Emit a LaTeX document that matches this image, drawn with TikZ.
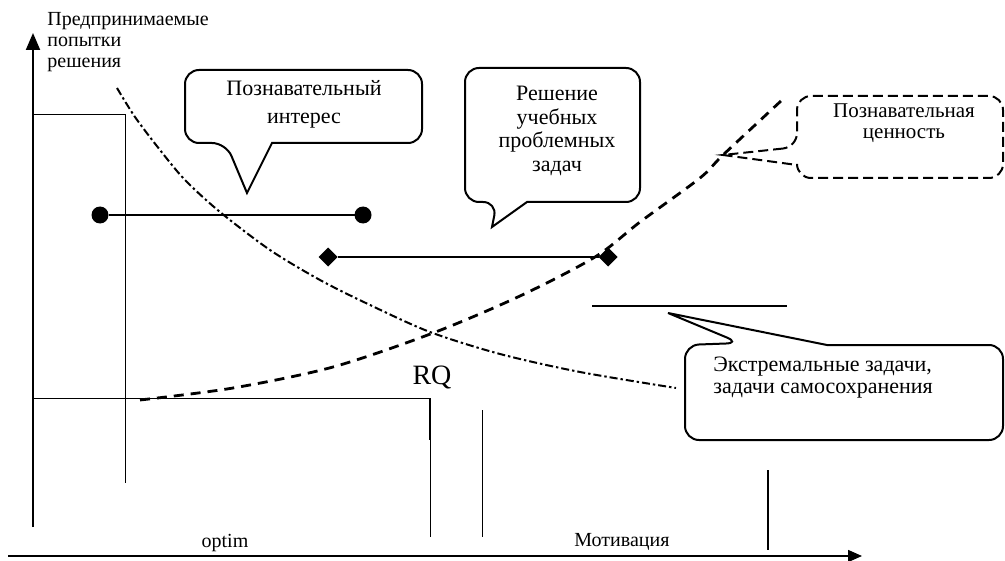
\documentclass[tikz,border=0pt]{standalone}
\usepackage{fontspec}
\setmainfont{Liberation Serif}
\usetikzlibrary{arrows.meta, shapes.geometric}
\tikzset{
	x = .5pt,
	y = -.5pt,
	line width = 1pt,
	font = \fontsize{11}{12}\selectfont,
	endpoint/.style={
		fill,
		inner sep=0pt,
		outer sep=0pt
	},
	ball/.style={
		endpoint,
		circle,
		minimum size=8.5pt
	},
	gem/.style={
		endpoint,
		diamond,
		minimum size=9.5pt
	},
	bar/.style={
		line width=1pt
	},
	guide/.style={
		line width=.5pt
	},
	axisline/.style={
		line width=1pt,
		-{Triangle[length=8.5pt, width=7pt]}
	},
	falling/.style={
		line width=1pt,
		dash pattern=on 4pt off 1.5pt on 1.2pt off 1.5pt
	},
	rising/.style={
		line width=1.4pt,
		dash pattern=on 5pt off 3.5pt
	},
	bubble/.style={
		line width=1pt
	},
	note/.style={
		align=center,
		inner sep=0pt
	}
}

\begin{document}
\begin{tikzpicture}
	\useasboundingbox (0,0) rectangle (1005,561);

	% axes
	\draw[axisline] (33,527) -- (33,33);
	\draw[axisline, line width=.8pt, -{Triangle[length=7pt, width=6pt]}] (8,556) -- (862,556);
	\node[note, align=left, anchor=west, font=\fontsize{10}{10.5}\selectfont] (yname) at (47,42) {Предпринимаемые\\попытки\\решения};

	% guide lines
	\draw[guide] (33,115) -- (125,115) -- (125,483);
	\draw[guide] (33,398) -- (430,398) -- (430,537);
	\draw[bar] (430,398) -- (430,440);
	\draw[guide] (482,410) -- (482,537);
	\draw[guide, line width=.8pt] (768,470) -- (768,550);

	% ranges
	\node[ball] at (100,215) (i-0) {};
	\node[ball] at (363,215) (i-1) {};
	\node[gem] at (328,257) (s-0) {};
	\node[gem] at (608,257) (s-1) {};
	\draw[bar] (i-0) to (i-1);
	\draw[bar] (s-0) to (s-1);
	\draw[bar, line width=1.2pt] (592,306) -- (787,306);

	% curves
	\draw[falling] plot[smooth] coordinates {(117,88) (135,117) (160,150) (185,180) (220,212) (270,250) (320,280) (370,305) (430,332) (500,354) (580,372) (676,388)};
	\draw[rising] plot[smooth] coordinates {(140,400) (233,388) (333,367) (433,333) (520,296) (595,257) (640,222) (700,178) (723,155) (782,100)};

	% callouts
	\draw[bubble] (272,143) [rounded corners=7pt] -- (422,143) -- (422,70) -- (185,70) -- (185,143) -- (226,143) [sharp corners] -- (247,193) -- cycle;
	\node[note, font=\fontsize{11}{14}\selectfont] (interest) at (304,104) {Познавательный\\интерес};

	\draw[bubble] (527,202) [rounded corners=7pt] -- (640,202) -- (640,68) -- (465,68) -- (465,202) -- (497,202) [sharp corners] -- (492,227) -- cycle;
	\node[note, font=\fontsize{11}{11.7}\selectfont] (tasks) at (557,131) {Решение\\учебных\\проблемных\\задач};

	\draw[bubble, dash pattern=on 5pt off 2.5pt] (797,147) [sharp corners] -- (723,155) -- (797,165) [rounded corners=7pt] -- (797,178) -- (1003,178) -- (1003,96) -- (797,96) -- cycle;
	\node[note, font=\fontsize{10.5}{10.5}\selectfont] (worth) at (904,123) {Познавательная\\ценность};

	\draw[bubble] (827,345) [rounded corners=7pt] -- (1003,345) -- (1003,440) -- (685,440) -- (685,345) -- (740,343) [sharp corners] -- (668,313) -- cycle;
	\node[note, align=left, anchor=west, font=\fontsize{11}{11}\selectfont] (extreme) at (713,378) {Экстремальные задачи,\\задачи самосохранения};

	% marks
	\node[note, font=\fontsize{14}{14}\selectfont] (rq) at (432,377) {RQ};
	\node[note, font=\fontsize{10}{10}\selectfont] (optim) at (225,543) {optim};
	\node[note, font=\fontsize{10}{10}\selectfont] (motive) at (622,542) {Мотивация};
\end{tikzpicture}
\end{document}
